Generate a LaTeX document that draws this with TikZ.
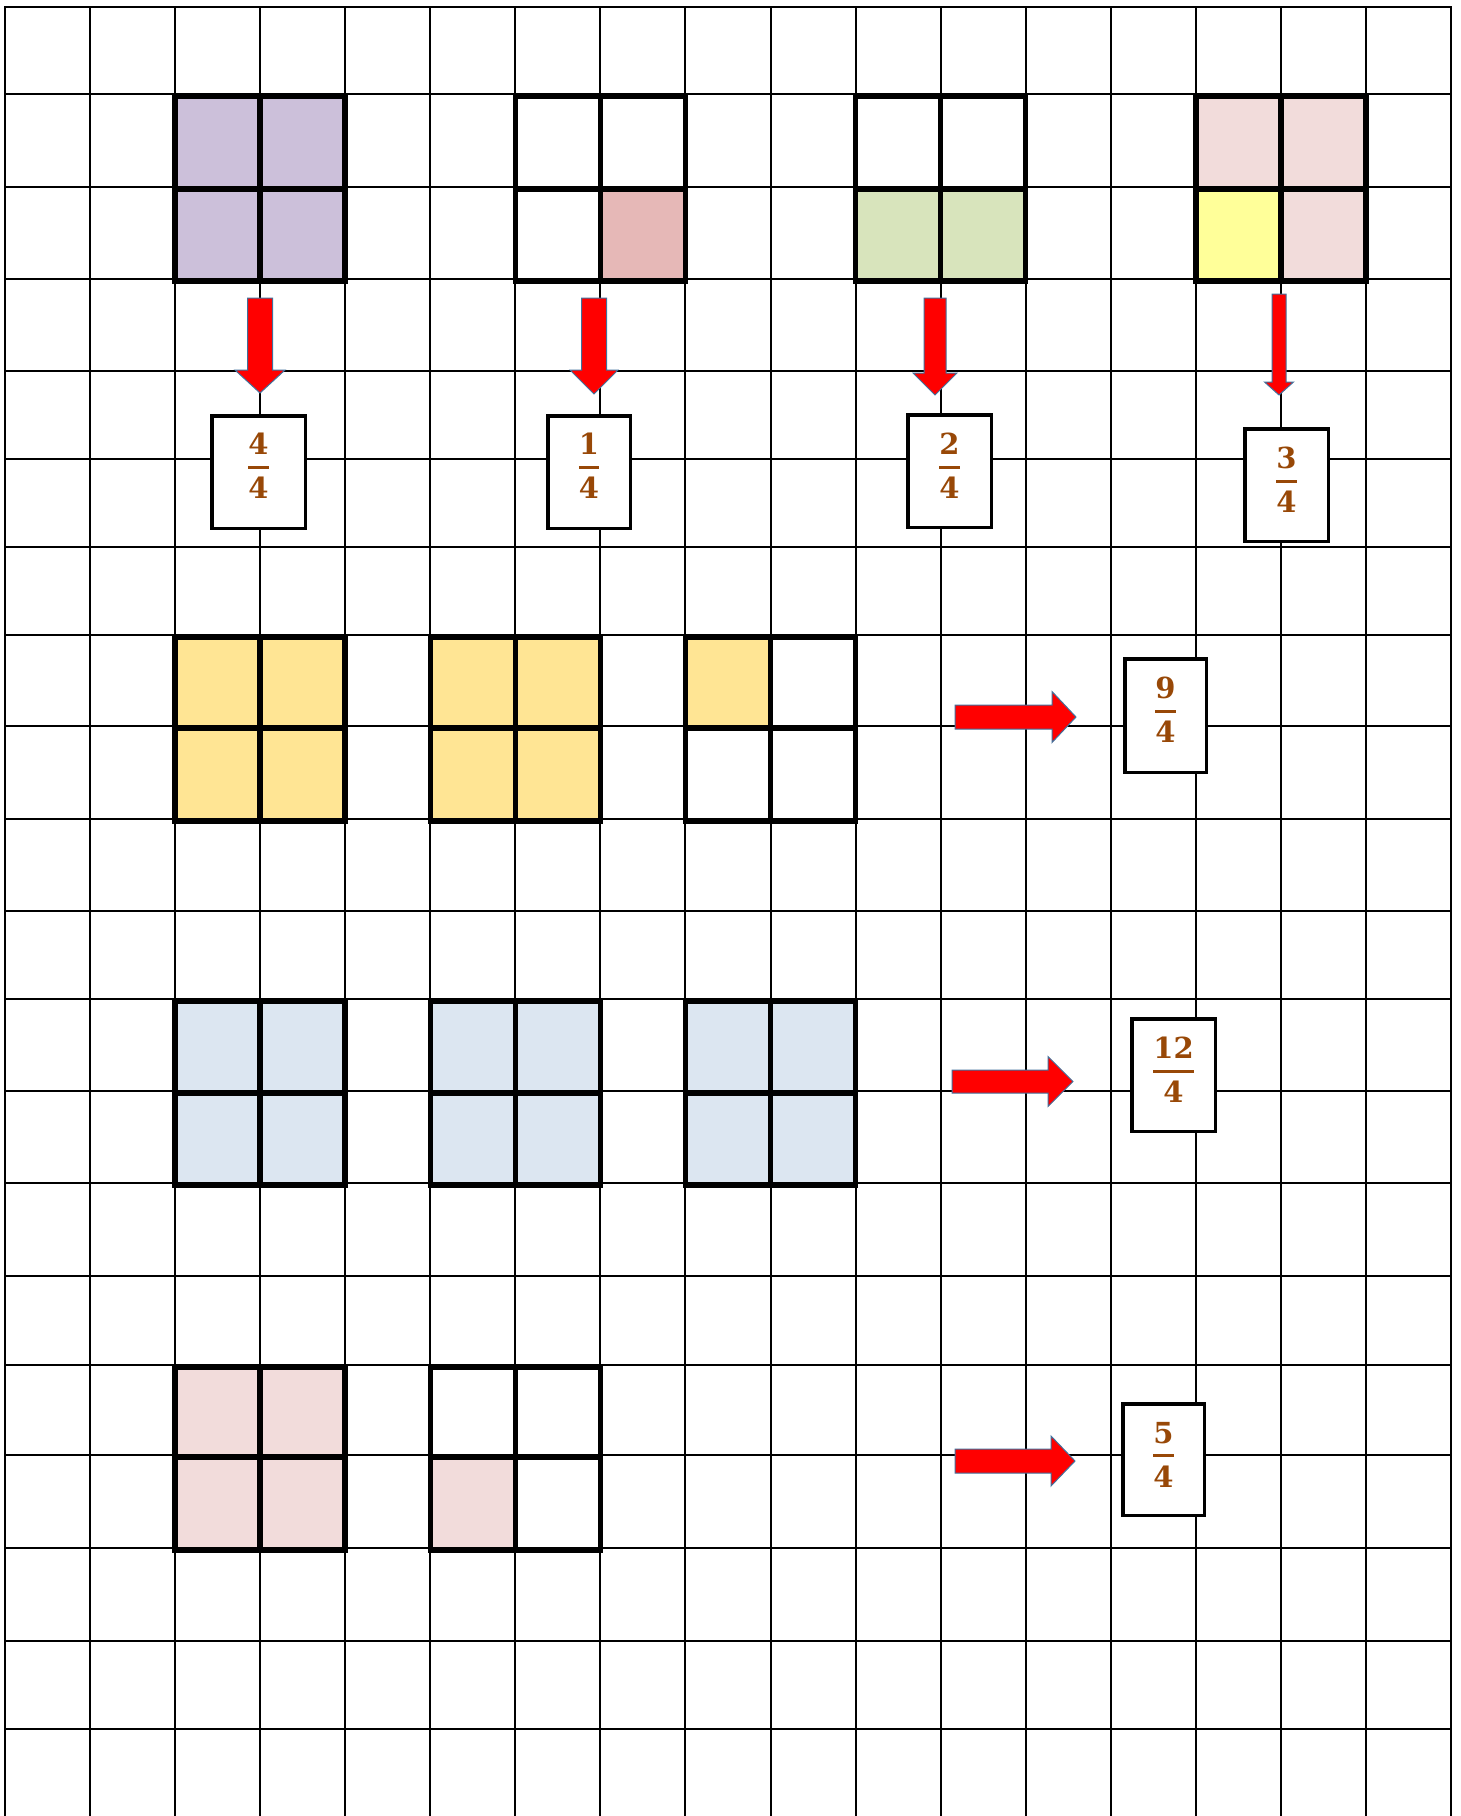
\documentclass[tikz,border=0pt]{standalone}
\usepackage{amsmath}
\usepackage{graphicx}
\usepackage{fontspec}
\newfontfamily\dvs{DejaVu Serif}
\definecolor{purp}{HTML}{CCC0DA}
\definecolor{rosec}{HTML}{E6B8B7}
\definecolor{greenc}{HTML}{D8E4BC}
\definecolor{lpink}{HTML}{F2DCDB}
\definecolor{yelc}{HTML}{FFFF99}
\definecolor{goldc}{HTML}{FFE594}
\definecolor{bluec}{HTML}{DCE6F1}
\definecolor{fracbrown}{HTML}{984807}
\definecolor{arrline}{HTML}{41719C}
\tikzset{
 gridline/.style={line width=2pt, black},
 thickb/.style={line width=5.5pt, black, line cap=rect},
 fbox/.style={draw=black, line width=3.5pt, fill=white, inner sep=0pt},
 fracnode/.style={text=fracbrown, inner sep=0pt},
 blockarr/.style={fill=red, draw=arrline, line width=1pt, line join=miter},
}
% square made of 2x2 cells: x0, y0, y1, y2, fills TL TR BL BR
\newcommand\fsq[8]{%
 \fill[#5] ({#1},{#2}) rectangle ({#1+85.06},{#3});
 \fill[#6] ({#1+85.06},{#2}) rectangle ({#1+170.12},{#3});
 \fill[#7] ({#1},{#3}) rectangle ({#1+85.06},{#4});
 \fill[#8] ({#1+85.06},{#3}) rectangle ({#1+170.12},{#4});
 \draw[thickb] ({#1},{#2+2}) rectangle ({#1+170.12},{#4+2});
 \draw[thickb] ({#1+85.06},{#2+2}) -- ({#1+85.06},{#4+2});
 \draw[thickb] ({#1},{#3+2}) -- ({#1+170.12},{#3+2});
}
% down block arrow: cx, top, half shaft, half head, head base, tip
\newcommand\darrow[6]{%
 \filldraw[blockarr] ({#1-#3},{#2}) -- ({#1+#3},{#2}) -- ({#1+#3},{#5}) -- ({#1+#4},{#5}) -- ({#1},{#6}) -- ({#1-#4},{#5}) -- ({#1-#3},{#5}) -- cycle;
}
% right block arrow: left x, cy, half shaft, half head, head base x, tip x
\newcommand\rarrow[6]{%
 \filldraw[blockarr] ({#1},{#2-#3}) -- ({#5},{#2-#3}) -- ({#5},{#2-#4}) -- ({#6},{#2}) -- ({#5},{#2+#4}) -- ({#5},{#2+#3}) -- ({#1},{#2+#3}) -- cycle;
}
\newcommand\fracb[2]{\scalebox{2.9}{$\displaystyle\genfrac{}{}{1pt}{0}{\text{\dvs\bfseries #1}}{\text{\dvs\bfseries #2}}$}}
\begin{document}
\begin{tikzpicture}[x=1pt,y=-1pt]
\useasboundingbox (0,0) rectangle (1460,1816);
\fill[white] (0,0) rectangle (1460,1816);
% grid
\foreach \i in {0,...,17} {
  \draw[gridline] ({5+85.06*\i},6) -- ({5+85.06*\i},1816);
}
\foreach \yy in {7,94,187,279,371,459,547,635,726,819,911,999,1091,1183,1276,1365,1455,1548,1641,1729} {
  \draw[gridline] (4,\yy) -- (1452,\yy);
}
% row 1 squares
\fsq{175.12}{94}{187}{279}{purp}{purp}{purp}{purp}
\fsq{515.36}{94}{187}{279}{white}{white}{white}{rosec}
\fsq{855.6}{94}{187}{279}{white}{white}{greenc}{greenc}
\fsq{1195.84}{94}{187}{279}{lpink}{lpink}{yelc}{lpink}
% row 2 squares
\fsq{175.12}{635}{726}{819}{goldc}{goldc}{goldc}{goldc}
\fsq{430.3}{635}{726}{819}{goldc}{goldc}{goldc}{goldc}
\fsq{685.48}{635}{726}{819}{goldc}{white}{white}{white}
% row 3 squares
\fsq{175.12}{999}{1091}{1183}{bluec}{bluec}{bluec}{bluec}
\fsq{430.3}{999}{1091}{1183}{bluec}{bluec}{bluec}{bluec}
\fsq{685.48}{999}{1091}{1183}{bluec}{bluec}{bluec}{bluec}
% row 4 squares
\fsq{175.12}{1365}{1455}{1548}{lpink}{lpink}{lpink}{lpink}
\fsq{430.3}{1365}{1455}{1548}{white}{white}{lpink}{white}
% down arrows
\darrow{260}{298}{12.5}{25}{370}{393}
\darrow{594}{298}{12.5}{24}{370}{394}
\darrow{935}{298}{11}{22}{373}{395}
\darrow{1279}{294}{7}{14.5}{382}{395}
% right arrows
\rarrow{955}{717}{12}{25.5}{1052}{1076}
\rarrow{952}{1081.5}{11.5}{25}{1048}{1073}
\rarrow{955}{1461}{12}{25}{1051}{1075}
% answer boxes
\node[fbox, minimum width=93.5pt, minimum height=112.5pt] (b1) at (258.5,472) {};
\node[fbox, minimum width=82.5pt, minimum height=112.5pt] (b2) at (589,472) {};
\node[fbox, minimum width=83.5pt, minimum height=112.5pt] (b3) at (949.5,471) {};
\node[fbox, minimum width=83.5pt, minimum height=112.5pt] (b4) at (1286.5,485) {};
\node[fbox, minimum width=81.5pt, minimum height=113.5pt] (b5) at (1165.5,715.5) {};
\node[fbox, minimum width=83.5pt, minimum height=112.5pt] (b6) at (1173.5,1075) {};
\node[fbox, minimum width=81.5pt, minimum height=111.5pt] (b7) at (1163.5,1459.5) {};
% fractions
\node[fracnode] (f1) at (258.5,466) {\fracb{4}{4}};
\node[fracnode] (f2) at (589,466) {\fracb{1}{4}};
\node[fracnode] (f3) at (949.5,466) {\fracb{2}{4}};
\node[fracnode] (f4) at (1286.5,480) {\fracb{3}{4}};
\node[fracnode] (f5) at (1165.5,710) {\fracb{9}{4}};
\node[fracnode] (f6) at (1173.5,1070) {\fracb{12}{4}};
\node[fracnode] (f7) at (1163.5,1455) {\fracb{5}{4}};
\end{tikzpicture}
\end{document}
